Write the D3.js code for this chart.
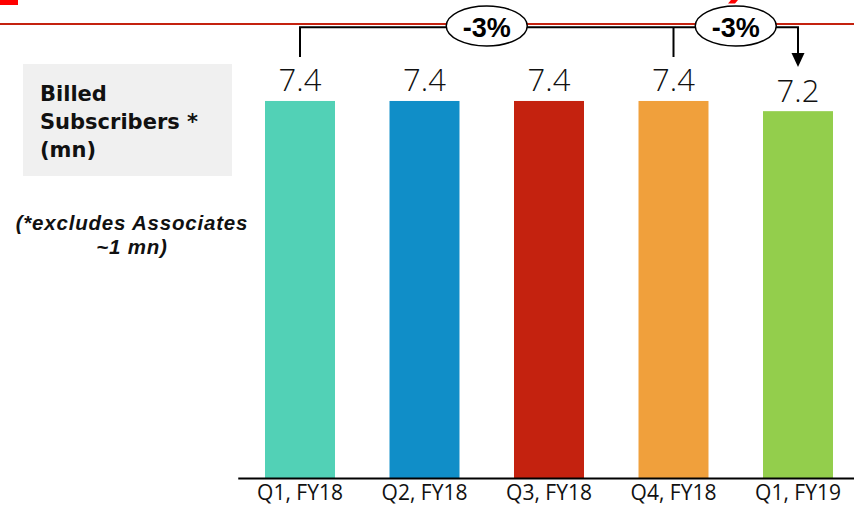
<!DOCTYPE html>
<html>
<head>
<meta charset="utf-8">
<script src="https://cdn.jsdelivr.net/npm/d3@7"></script>
<style>
  html, body { margin: 0; padding: 0; background: #fff; }
  svg { display: block; }
</style>
</head>
<body>
<svg id="chart" width="854" height="508"></svg>
<script>
// Quarterly billed subscribers (millions)
const categories = ["Q1, FY18", "Q2, FY18", "Q3, FY18", "Q4, FY18", "Q1, FY19"];
const values = [7.4, 7.4, 7.4, 7.4, 7.2];
const barColors = ["#52d1b6", "#108ec8", "#c4220f", "#f0a03c", "#93ce4c"];
const valueLabels = ["7.4", "7.4", "7.4", "7.4", "7.2"];

// Change callouts: bracket from one quarter to another with a percentage badge
const changeLabels = ["-3%", "-3%"];
const changeSpans = [["Q1, FY18", "Q4, FY18"], ["Q4, FY18", "Q1, FY19"]];

const titleLines = ["Billed", "Subscribers *", "(mn)"];
const noteLines = ["(*excludes Associates", "~1 mn)"];

const svg = d3.select("#chart");

const x = d3.scaleBand()
  .domain(categories)
  .range([237.75, 860.25])
  .paddingInner(0.4378)
  .paddingOuter(0.2189);

const y = d3.scaleLinear().domain([0, 8]).range([478, 70.4]);

const cx = c => x(c) + x.bandwidth() / 2;

// Header decorations
svg.append("rect").attr("x", 0).attr("y", 0).attr("width", 18).attr("height", 5).attr("fill", "#ff0000");
svg.append("path").attr("d", "M731,0 L738,0 L735,3.5 L728,3.5 Z").attr("fill", "#ff0000");
svg.append("line").attr("x1", 0).attr("x2", 854).attr("y1", 24).attr("y2", 24)
  .attr("stroke", "#c4220f").attr("stroke-width", 2);

// Bars
svg.append("g").selectAll("rect")
  .data(categories)
  .join("rect")
  .attr("x", d => x(d))
  .attr("width", x.bandwidth())
  .attr("y", (d, i) => y(values[i]))
  .attr("height", (d, i) => y(0) - y(values[i]))
  .attr("fill", (d, i) => barColors[i]);

// Value labels
svg.append("g").selectAll("text")
  .data(categories)
  .join("text")
  .attr("x", d => cx(d))
  .attr("y", (d, i) => y(values[i]) - 9.5)
  .attr("text-anchor", "middle")
  .attr("font-family", "'Open Sans', sans-serif")
  .attr("font-weight", 300)
  .attr("font-size", 31)
  .attr("fill", "#111")
  .text((d, i) => valueLabels[i]);

// Category axis
const axis = svg.append("g")
  .attr("transform", `translate(0,${y(0)})`)
  .call(d3.axisBottom(x).tickSize(0).tickSizeOuter(0).tickPadding(7));
axis.select(".domain").attr("stroke", "#000").attr("stroke-width", 2);
axis.selectAll("text")
  .attr("font-family", "'Open Sans', sans-serif")
  .attr("font-size", 21)
  .attr("fill", "#111");

// Change bracket
const bracketY = 27.3;
const first = changeSpans[0][0];
const last = changeSpans[changeSpans.length - 1][1];
const bracket = svg.append("g").attr("stroke", "#000").attr("stroke-width", 2).attr("fill", "none");
bracket.append("path")
  .attr("d", `M${cx(first)},57 V${bracketY} H${cx(last)} V54`);
changeSpans.slice(1).forEach(s => {
  bracket.append("path").attr("d", `M${cx(s[0])},${bracketY} V57`);
});
svg.append("path")
  .attr("d", `M${cx(last) - 6.5},53 L${cx(last) + 6.5},53 L${cx(last)},67 Z`)
  .attr("fill", "#000");

// Percentage badges
const badges = svg.append("g").selectAll("g")
  .data(changeSpans)
  .join("g")
  .attr("transform", d => `translate(${(cx(d[0]) + cx(d[1])) / 2},26)`);
badges.append("ellipse")
  .attr("rx", 40.5).attr("ry", 20)
  .attr("fill", "#fff").attr("stroke", "#000").attr("stroke-width", 1.5);
badges.append("text")
  .attr("text-anchor", "middle")
  .attr("y", 10.5)
  .attr("font-family", "'Liberation Sans', Arial, sans-serif")
  .attr("font-weight", "bold")
  .attr("font-size", 27)
  .attr("fill", "#000")
  .text((d, i) => changeLabels[i]);

// Measure title box
svg.append("rect")
  .attr("x", 23).attr("y", 64).attr("width", 209).attr("height", 112)
  .attr("fill", "#f0f0f0");
svg.append("g").selectAll("text")
  .data(titleLines)
  .join("text")
  .attr("x", 40)
  .attr("y", (d, i) => 100.5 + i * 28)
  .attr("font-family", "'DejaVu Sans', sans-serif")
  .attr("font-weight", "bold")
  .attr("font-size", 21)
  .attr("fill", "#111")
  .text(d => d);

// Footnote
svg.append("g").selectAll("text")
  .data(noteLines)
  .join("text")
  .attr("x", 132)
  .attr("y", (d, i) => 230 + i * 24)
  .attr("text-anchor", "middle")
  .attr("font-family", "'Liberation Sans', Arial, sans-serif")
  .attr("font-weight", "bold")
  .attr("font-style", "italic")
  .attr("font-size", 20.5)
  .attr("letter-spacing", 0.8)
  .attr("fill", "#111")
  .text(d => d);
</script>
</body>
</html>
